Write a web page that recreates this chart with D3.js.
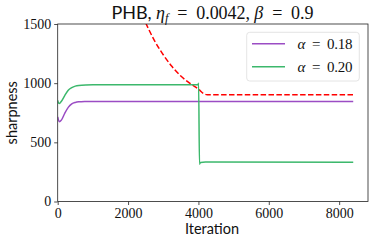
<!DOCTYPE html>
<html lang="en">
<head>
  <meta charset="UTF-8">
  <title>PHB sharpness</title>
  <script src="https://d3js.org/d3.v7.min.js"></script>
  <style>
    body { margin: 0; background: #fff; }
    svg text { fill: #111; white-space: pre; }
    .tick text { font-family: 'Liberation Serif', serif; font-size: 14px; }
    .sans { font-family: Lato, sans-serif; }
    .math { font-family: 'Liberation Serif', serif; }
  </style>
</head>
<body>
<svg width="374" height="244"></svg>
<script>
  // data
  const purpleIter = [0, 20, 50, 100, 200, 300, 400, 500, 600, 800, 1000, 1500, 8400];
  const purpleVals = [715, 690, 675, 686, 745, 795, 825, 837, 842, 845, 846, 846, 846];

  const greenIter = [0, 20, 50, 100, 200, 300, 400, 500, 600, 800, 1000, 2000, 3990, 4005, 4030, 4060, 4200, 8400];
  const greenVals = [855, 835, 828, 845, 895, 940, 962, 975, 981, 985, 986, 986, 986, 1000, 315, 330, 333, 332];

  const redIter = [2500, 2750, 3000, 3250, 3500, 3750, 4000, 4150, 4250, 8400];
  const redVals = [1510, 1360, 1240, 1140, 1060, 1000, 950, 912, 902, 902];

  const xTicks = [0, 2000, 4000, 6000, 8000];
  const yTicks = [0, 500, 1000, 1500];
  const legendLabels = ["0.18", "0.20"];
  const colors = ["#9b4dc4", "#3cb86c"];

  const margin = {left: 57.7, right: 6, top: 24, bottom: 42.5};
  const width = 374, height = 244;

  const svg = d3.select("svg");

  const x = d3.scaleLinear().domain([0, 8820]).range([margin.left, width - margin.right]);
  const y = d3.scaleLinear().domain([0, 1500]).range([height - margin.bottom, margin.top]);

  svg.append("clipPath").attr("id", "clip")
    .append("rect")
    .attr("x", margin.left).attr("y", margin.top)
    .attr("width", x.range()[1] - margin.left)
    .attr("height", y.range()[0] - margin.top);

  const line = d3.line().x(d => x(d[0])).y(d => y(d[1]));
  const plot = svg.append("g").attr("clip-path", "url(#clip)");

  plot.append("path")
    .datum(redIter.map((d, i) => [d, redVals[i]]))
    .attr("d", line.curve(d3.curveMonotoneX)).attr("fill", "none")
    .attr("stroke", "#ff0000").attr("stroke-width", 1.5)
    .attr("stroke-dasharray", "5.5,2.4");

  plot.append("path")
    .datum(purpleIter.map((d, i) => [d, purpleVals[i]]))
    .attr("d", line).attr("fill", "none")
    .attr("stroke", colors[0]).attr("stroke-width", 1.5);

  plot.append("path")
    .datum(greenIter.map((d, i) => [d, greenVals[i]]))
    .attr("d", line).attr("fill", "none")
    .attr("stroke", colors[1]).attr("stroke-width", 1.5);

  // axes
  svg.append("g")
    .attr("transform", `translate(0,${y(0)})`)
    .call(d3.axisBottom(x).tickValues(xTicks).tickSize(3.5).tickPadding(3).tickFormat(d3.format("d")));
  svg.append("g")
    .attr("transform", `translate(${margin.left},0)`)
    .call(d3.axisLeft(y).tickValues(yTicks).tickSize(3.5).tickPadding(3).tickFormat(d3.format("d")));
  svg.selectAll(".domain").remove();
  svg.selectAll(".tick line").attr("stroke", "#222").attr("stroke-width", 0.8);

  // frame
  svg.append("rect")
    .attr("x", margin.left).attr("y", margin.top)
    .attr("width", x.range()[1] - margin.left)
    .attr("height", y.range()[0] - margin.top)
    .attr("fill", "none").attr("stroke", "#222").attr("stroke-width", 0.8);

  // labels
  svg.append("text").attr("class", "sans")
    .attr("x", 212).attr("y", 234)
    .attr("text-anchor", "middle").attr("font-size", 14.5)
    .text("Iteration");

  svg.append("text").attr("class", "sans")
    .attr("transform", `translate(17,${(margin.top + y(0)) / 2}) rotate(-90)`)
    .attr("text-anchor", "middle").attr("font-size", 14.5)
    .text("sharpness");

  const title = svg.append("text")
    .attr("x", 212.5).attr("y", 18.5)
    .attr("text-anchor", "middle").attr("font-size", 18)
    .attr("textLength", 202).attr("lengthAdjust", "spacing");
  title.append("tspan").attr("class", "sans").text("PHB, ");
  title.append("tspan").attr("class", "math").attr("font-style", "italic").text("η");
  title.append("tspan").attr("class", "math").attr("font-style", "italic")
    .attr("font-size", 12.5).attr("dy", 3).text("f");
  title.append("tspan").attr("class", "math").attr("dy", -3).text("  =  0.0042, ");
  title.append("tspan").attr("class", "math").attr("font-style", "italic").text("β");
  title.append("tspan").attr("class", "math").text("  =  0.9");

  // legend
  const lg = svg.append("g");
  lg.append("rect")
    .attr("x", 246.7).attr("y", 32.3).attr("width", 112.6).attr("height", 48.7)
    .attr("rx", 3).attr("fill", "#fff").attr("fill-opacity", 0.8)
    .attr("stroke", "#ddd").attr("stroke-width", 0.8);
  legendLabels.forEach((lab, i) => {
    const ly = 43.7 + i * 23;
    lg.append("line")
      .attr("x1", 252).attr("x2", 285).attr("y1", ly).attr("y2", ly)
      .attr("stroke", colors[i]).attr("stroke-width", 1.5);
    const t = lg.append("text").attr("class", "math")
      .attr("x", 297.5).attr("y", ly + 5).attr("font-size", 15)
      .attr("textLength", 55).attr("lengthAdjust", "spacing");
    t.append("tspan").attr("font-style", "italic").text("α");
    t.append("tspan").text("  =  " + lab);
  });
</script>
</body>
</html>
